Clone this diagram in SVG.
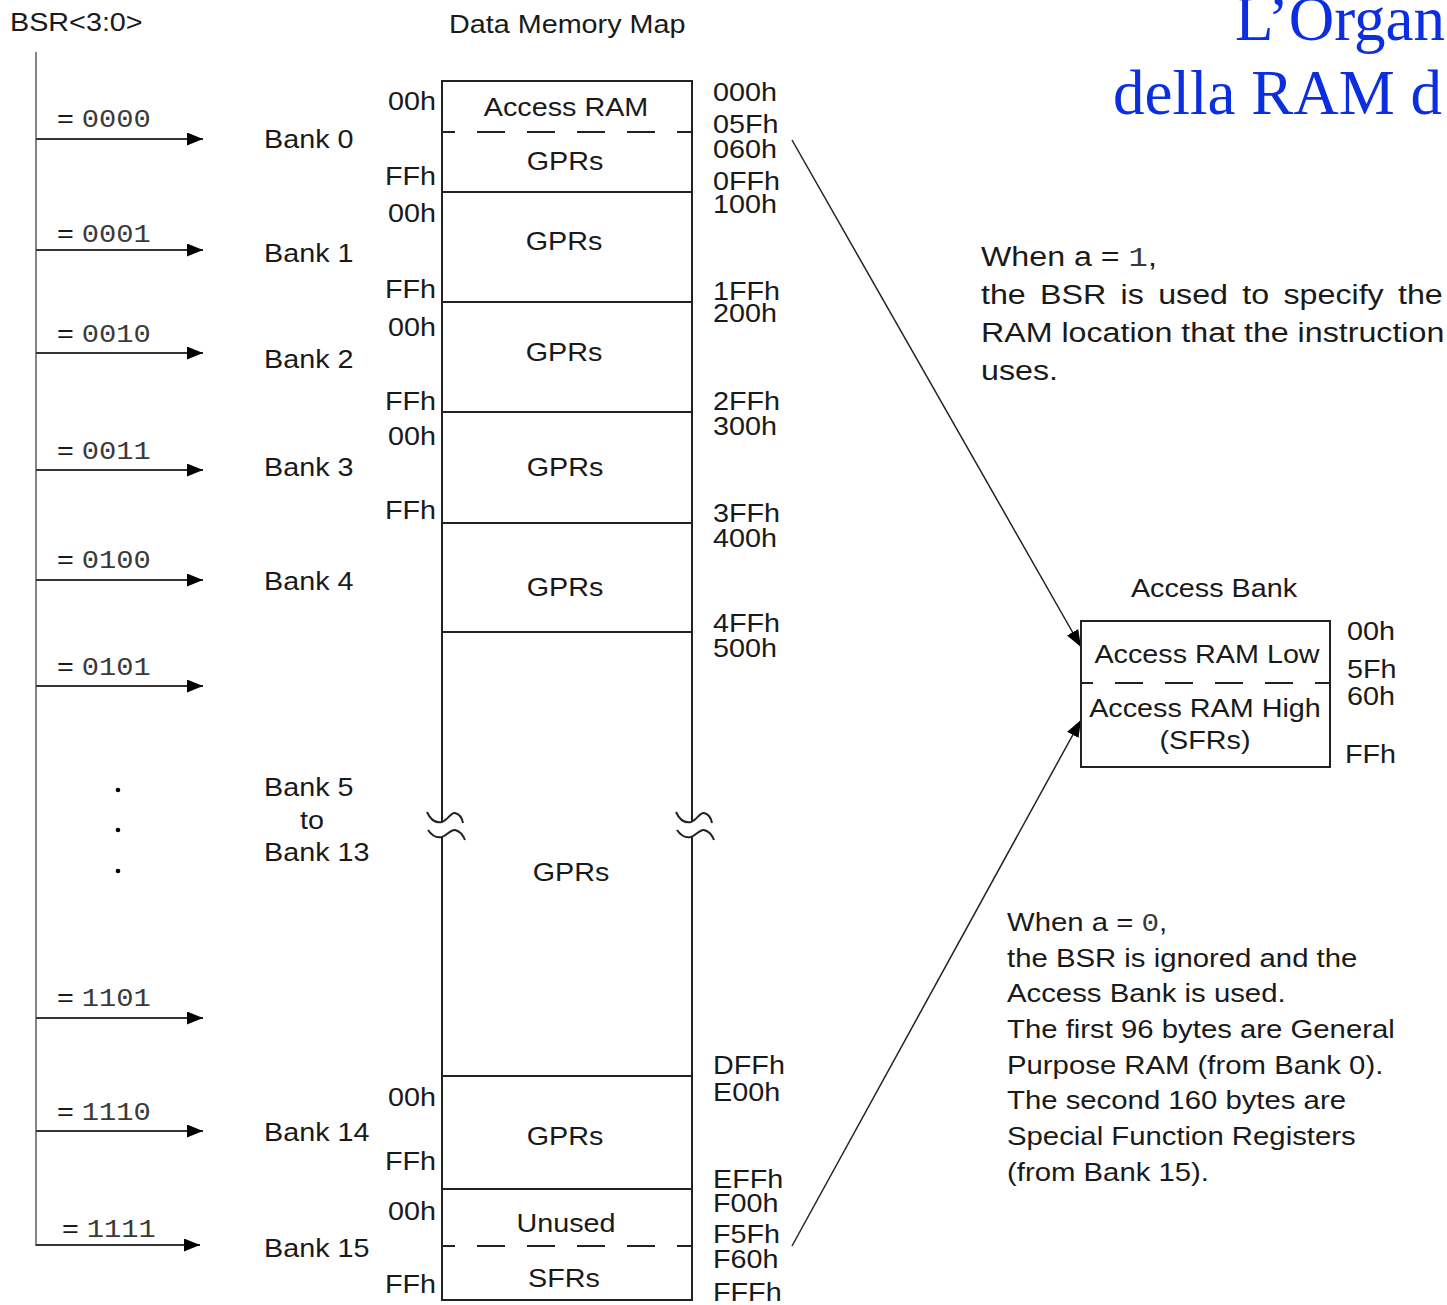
<svg xmlns="http://www.w3.org/2000/svg" width="1447" height="1305" viewBox="0 0 1447 1305">
<style>
.t{font-family:"Liberation Sans",Arial,sans-serif;font-size:25px;fill:#1a1a1a}
.m{font-family:"Liberation Mono","Courier New",monospace;fill:#3a3a3a}
.c{text-anchor:middle}
.e{text-anchor:end}
.n1{font-size:28px}
.n2{font-size:25.5px}
.title{font-family:"Liberation Serif","Times New Roman",serif;font-size:63px;fill:#0a2ee0}
.box{fill:none;stroke:#222;stroke-width:2}
.ln{fill:none;stroke:#222;stroke-width:2}
.dash{fill:none;stroke:#222;stroke-width:2;stroke-dasharray:28 22}
.bsr{stroke:#858585;stroke-width:2}
.arr{stroke:#333;stroke-width:2;marker-end:url(#ah)}
.diag{stroke:#222;stroke-width:1.5;marker-end:url(#ah2)}
</style>
<defs>
<marker id="ah" markerUnits="userSpaceOnUse" markerWidth="17" markerHeight="14" refX="16" refY="6.5" orient="auto"><path d="M0,0 L16,6.5 L0,13 z" fill="#000"/></marker>
<marker id="ah2" markerUnits="userSpaceOnUse" markerWidth="18" markerHeight="14" refX="17" refY="6.5" orient="auto"><path d="M0,0 L17,6.5 L0,13 z" fill="#000"/></marker>
</defs>
<rect width="1447" height="1305" fill="#fff"/>

<g id="title">
<text class="title" x="1235" y="40">L’Organ</text>
<text class="title" x="1113" y="114">della RAM d</text>
</g>

<g id="header">
<text class="t" transform="translate(10,31) scale(1.15,1)">BSR&lt;3:0&gt;</text>
<text class="t" transform="translate(449,33) scale(1.15,1)">Data Memory Map</text>
</g>

<g id="connectors">
<line class="bsr" x1="36" y1="52" x2="36" y2="1246"/>
<line class="arr" x1="36" y1="139" x2="203" y2="139"/>
<line class="arr" x1="36" y1="250" x2="203" y2="250"/>
<line class="arr" x1="36" y1="353" x2="203" y2="353"/>
<line class="arr" x1="36" y1="470" x2="203" y2="470"/>
<line class="arr" x1="36" y1="580" x2="203" y2="580"/>
<line class="arr" x1="36" y1="686" x2="203" y2="686"/>
<line class="arr" x1="36" y1="1018" x2="203" y2="1018"/>
<line class="arr" x1="36" y1="1131" x2="203" y2="1131"/>
<line class="arr" x1="36" y1="1245" x2="200" y2="1245"/>
<text class="t" transform="translate(57,127) scale(1.15,1)">= <tspan class="m">0000</tspan></text>
<text class="t" transform="translate(57,242) scale(1.15,1)">= <tspan class="m">0001</tspan></text>
<text class="t" transform="translate(57,342) scale(1.15,1)">= <tspan class="m">0010</tspan></text>
<text class="t" transform="translate(57,459) scale(1.15,1)">= <tspan class="m">0011</tspan></text>
<text class="t" transform="translate(57,568) scale(1.15,1)">= <tspan class="m">0100</tspan></text>
<text class="t" transform="translate(57,675) scale(1.15,1)">= <tspan class="m">0101</tspan></text>
<text class="t" transform="translate(57,1006) scale(1.15,1)">= <tspan class="m">1101</tspan></text>
<text class="t" transform="translate(57,1120) scale(1.15,1)">= <tspan class="m">1110</tspan></text>
<text class="t" transform="translate(62,1237) scale(1.15,1)">= <tspan class="m">1111</tspan></text>
<circle cx="118" cy="790" r="2.3" fill="#000"/>
<circle cx="118" cy="830" r="2.3" fill="#000"/>
<circle cx="118" cy="871" r="2.3" fill="#000"/>
<line class="diag" x1="792" y1="140" x2="1081" y2="647"/>
<line class="diag" x1="792" y1="1246" x2="1081" y2="720"/>
</g>

<g id="bank0">
<rect class="box" x="442" y="81" width="250" height="111"/>
<line class="dash" x1="442" y1="132" x2="692" y2="132" stroke-dashoffset="15"/>
<text class="t c" transform="translate(566,116) scale(1.15,1)">Access RAM</text>
<text class="t c" transform="translate(565,170) scale(1.15,1)">GPRs</text>
<text class="t e" transform="translate(436,110) scale(1.15,1)">00h</text>
<text class="t e" transform="translate(436,185) scale(1.15,1)">FFh</text>
<text class="t" transform="translate(264,148) scale(1.15,1)">Bank 0</text>
<text class="t" transform="translate(713,101) scale(1.15,1)">000h</text>
<text class="t" transform="translate(713,133) scale(1.15,1)">05Fh</text>
<text class="t" transform="translate(713,158) scale(1.15,1)">060h</text>
<text class="t" transform="translate(713,190) scale(1.15,1)">0FFh</text>
</g>

<g id="bank1">
<rect class="box" x="442" y="192" width="250" height="110"/>
<text class="t c" transform="translate(564,250) scale(1.15,1)">GPRs</text>
<text class="t e" transform="translate(436,222) scale(1.15,1)">00h</text>
<text class="t e" transform="translate(436,298) scale(1.15,1)">FFh</text>
<text class="t" transform="translate(264,262) scale(1.15,1)">Bank 1</text>
<text class="t" transform="translate(713,213) scale(1.15,1)">100h</text>
<text class="t" transform="translate(713,300) scale(1.15,1)">1FFh</text>
</g>

<g id="bank2">
<rect class="box" x="442" y="302" width="250" height="110"/>
<text class="t c" transform="translate(564,361) scale(1.15,1)">GPRs</text>
<text class="t e" transform="translate(436,336) scale(1.15,1)">00h</text>
<text class="t e" transform="translate(436,410) scale(1.15,1)">FFh</text>
<text class="t" transform="translate(264,368) scale(1.15,1)">Bank 2</text>
<text class="t" transform="translate(713,322) scale(1.15,1)">200h</text>
<text class="t" transform="translate(713,410) scale(1.15,1)">2FFh</text>
</g>

<g id="bank3">
<rect class="box" x="442" y="412" width="250" height="111"/>
<text class="t c" transform="translate(565,476) scale(1.15,1)">GPRs</text>
<text class="t e" transform="translate(436,445) scale(1.15,1)">00h</text>
<text class="t e" transform="translate(436,519) scale(1.15,1)">FFh</text>
<text class="t" transform="translate(264,476) scale(1.15,1)">Bank 3</text>
<text class="t" transform="translate(713,435) scale(1.15,1)">300h</text>
<text class="t" transform="translate(713,522) scale(1.15,1)">3FFh</text>
</g>

<g id="bank4">
<rect class="box" x="442" y="523" width="250" height="109"/>
<text class="t c" transform="translate(565,596) scale(1.15,1)">GPRs</text>
<text class="t" transform="translate(264,590) scale(1.15,1)">Bank 4</text>
<text class="t" transform="translate(713,547) scale(1.15,1)">400h</text>
<text class="t" transform="translate(713,632) scale(1.15,1)">4FFh</text>
</g>

<g id="bank5to13">
<path class="ln" d="M442,632 V822 M442,837 V1076 M692,632 V822 M692,837 V1076"/>
<path class="ln" stroke-width="1.6" d="M427,812 C431,821 437,823 442,822 C448,820 451,812 455,813 C459,814 462,818 463,823 M428,830 C432,836 437,838 442,837 C448,835 451,829 455,830 C459,831 463,835 465,840"/>
<path class="ln" stroke-width="1.6" d="M676,812 C680,821 686,823 691,822 C697,820 700,812 704,813 C708,814 711,818 712,823 M677,830 C681,836 686,838 691,837 C697,835 700,829 704,830 C708,831 712,835 714,840"/>
<text class="t c" transform="translate(571,881) scale(1.15,1)">GPRs</text>
<text class="t" transform="translate(264,796) scale(1.15,1)">Bank 5</text>
<text class="t" transform="translate(300,829) scale(1.15,1)">to</text>
<text class="t" transform="translate(264,861) scale(1.15,1)">Bank 13</text>
<text class="t" transform="translate(713,657) scale(1.15,1)">500h</text>
<text class="t" transform="translate(713,1074) scale(1.15,1)">DFFh</text>
</g>

<g id="bank14">
<rect class="box" x="442" y="1076" width="250" height="113"/>
<text class="t c" transform="translate(565,1145) scale(1.15,1)">GPRs</text>
<text class="t e" transform="translate(436,1106) scale(1.15,1)">00h</text>
<text class="t e" transform="translate(436,1170) scale(1.15,1)">FFh</text>
<text class="t" transform="translate(264,1141) scale(1.15,1)">Bank 14</text>
<text class="t" transform="translate(713,1101) scale(1.15,1)">E00h</text>
<text class="t" transform="translate(713,1188) scale(1.15,1)">EFFh</text>
</g>

<g id="bank15">
<rect class="box" x="442" y="1189" width="250" height="111"/>
<line class="dash" x1="442" y1="1246" x2="692" y2="1246" stroke-dashoffset="15"/>
<text class="t c" transform="translate(566,1232) scale(1.15,1)">Unused</text>
<text class="t c" transform="translate(564,1287) scale(1.15,1)">SFRs</text>
<text class="t e" transform="translate(436,1220) scale(1.15,1)">00h</text>
<text class="t e" transform="translate(436,1293) scale(1.15,1)">FFh</text>
<text class="t" transform="translate(264,1257) scale(1.15,1)">Bank 15</text>
<text class="t" transform="translate(713,1212) scale(1.15,1)">F00h</text>
<text class="t" transform="translate(713,1243) scale(1.15,1)">F5Fh</text>
<text class="t" transform="translate(713,1268) scale(1.15,1)">F60h</text>
<text class="t" transform="translate(713,1301) scale(1.15,1)">FFFh</text>
</g>

<g id="access-bank">
<text class="t c" transform="translate(1214,597) scale(1.15,1)">Access Bank</text>
<rect class="box" x="1081" y="621" width="249" height="146"/>
<line class="dash" x1="1081" y1="683" x2="1330" y2="683" stroke-dashoffset="16"/>
<text class="t c" transform="translate(1207,663) scale(1.15,1)">Access RAM Low</text>
<text class="t c" transform="translate(1205,717) scale(1.15,1)">Access RAM High</text>
<text class="t c" transform="translate(1205,749) scale(1.15,1)">(SFRs)</text>
<text class="t" transform="translate(1347,640) scale(1.15,1)">00h</text>
<text class="t" transform="translate(1347,678) scale(1.15,1)">5Fh</text>
<text class="t" transform="translate(1347,705) scale(1.15,1)">60h</text>
<text class="t" transform="translate(1345,763) scale(1.15,1)">FFh</text>
</g>

<g id="note-a1">
<text class="t n1" transform="translate(981,0) scale(1.15,1)">
<tspan x="0" y="266">When a = <tspan class="m">1</tspan>,</tspan>
<tspan x="0" y="304" word-spacing="4.7">the BSR is used to specify the</tspan>
<tspan x="0" y="342">RAM location that the instruction</tspan>
<tspan x="0" y="380">uses.</tspan>
</text>
</g>

<g id="note-a0">
<text class="t n2" transform="translate(1007,0) scale(1.15,1)">
<tspan x="0" y="931">When a = <tspan class="m">0</tspan>,</tspan>
<tspan x="0" y="967">the BSR is ignored and the</tspan>
<tspan x="0" y="1002">Access Bank is used.</tspan>
<tspan x="0" y="1038">The first 96 bytes are General</tspan>
<tspan x="0" y="1074">Purpose RAM (from Bank 0).</tspan>
<tspan x="0" y="1109">The second 160 bytes are</tspan>
<tspan x="0" y="1145">Special Function Registers</tspan>
<tspan x="0" y="1181">(from Bank 15).</tspan>
</text>
</g>
</svg>
